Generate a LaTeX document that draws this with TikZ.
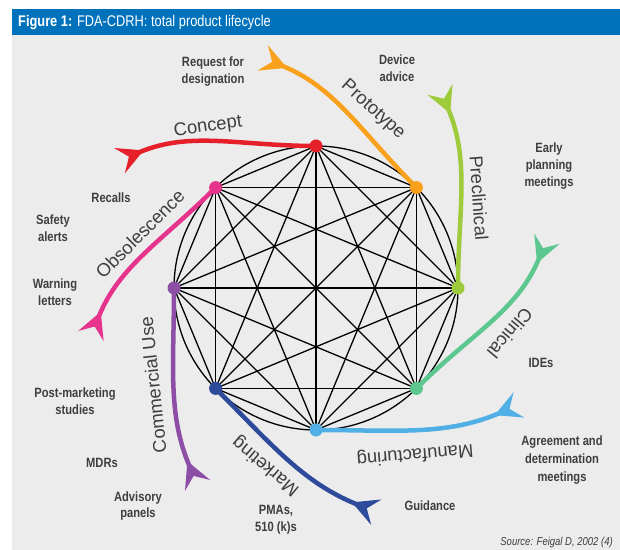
\documentclass[tikz,border=0pt]{standalone}
\usepackage{fontspec}
\setmainfont{Liberation Sans}
\newfontfamily\lab{Liberation Sans}[FakeStretch=0.83]
\usetikzlibrary{arrows.meta}

\definecolor{hdr}{RGB}{0,114,188}
\definecolor{panel}{RGB}{236,236,237}
\definecolor{ink}{RGB}{62,62,62}
\definecolor{cRed}{RGB}{230,32,42}
\definecolor{cOrange}{RGB}{249,161,27}
\definecolor{cLime}{RGB}{157,203,60}
\definecolor{cMint}{RGB}{92,199,142}
\definecolor{cSky}{RGB}{80,176,229}
\definecolor{cNavy}{RGB}{46,74,155}
\definecolor{cPurple}{RGB}{141,79,165}
\definecolor{cPink}{RGB}{230,52,140}

\pgfdeclarelayer{bg}
\pgfdeclarelayer{lines}
\pgfsetlayers{bg,lines,main}

\tikzset{
  wire/.style={black, line width=1.3bp},
  dot/.style={circle, inner sep=0pt, minimum size=13bp},
  arm/.style={line width=4.5bp, #1,
    -{Stealth[reversed, length=26bp, width=27bp, inset=10bp]}},
  phase/.style={font=\fontsize{18.5}{20}\selectfont, text=ink, inner sep=0pt},
  note/.style={font=\lab\bfseries\fontsize{13.5}{17}\selectfont, text=ink,
    align=center, inner sep=0pt},
}

\begin{document}
\begin{tikzpicture}[x=1bp, y=1bp]
\useasboundingbox (0,0) rectangle (620,550);

\begin{pgfonlayer}{bg}
  \fill[white] (0,0) rectangle (620,550);
  \fill[panel] (12,0) rectangle (620,515);
  \fill[hdr] (12,515) rectangle (620,541);
\end{pgfonlayer}

\node[anchor=base west, text=white, inner sep=0pt,
      font=\lab\fontsize{15.5}{17}\selectfont] (title) at (18,523)
  {\bfseries Figure 1: \mdseries FDA-CDRH: total product lifecycle};

% the lifecycle wheel
\begin{scope}[shift={(316,262)}]
  \foreach \i/\a/\c in {1/90/cRed, 2/45/cOrange, 3/0/cLime, 4/-45/cMint,
                        5/-90/cSky, 6/-135/cNavy, 7/180/cPurple, 8/135/cPink}
    \node[dot, fill=\c] (v\i) at (\a:142) {};

  \begin{pgfonlayer}{lines}
    \draw[wire] (0,0) circle (142);
    \foreach \i in {1,...,7}{
      \pgfmathtruncatemacro\s{\i+1}
      \foreach \j in {\s,...,8}
        \draw[wire] (v\i.center) -- (v\j.center);
    }
    % spiral arms leaving each stage: index/start angle/colour/sweep/reach
    \foreach \i/\a/\c/\w/\r in {1/90/cRed/57/234, 2/45/cOrange/58/236,
        3/0/cLime/58/234, 4/-45/cMint/57/236, 5/-90/cSky/60/234,
        6/-135/cNavy/60/232, 7/180/cPurple/59/230, 8/135/cPink/57/230}{
      \coordinate (e\i) at (\a+\w:\r);
      \draw[arm=\c] (v\i.center) to[out=\a+90, in=\a-67] (e\i);
    }
  \end{pgfonlayer}
\end{scope}

% stage names
\node[phase, rotate=8]    (tConcept) at (208,423) {Concept};
\node[phase, rotate=-42]  (tProto)   at (373,440) {Prototype};
\node[phase, rotate=-86]  (tPre)     at (479,352) {Preclinical};
\node[phase, rotate=-130] (tClin)    at (510,217) {Clinical};
\node[phase, rotate=-175] (tManu)    at (415,96)  {Manufacturing};
\node[phase, rotate=140]  (tMark)    at (266,84)  {Marketing};
\node[phase, rotate=96]   (tComm)    at (153,165) {Commercial Use};
\node[phase, rotate=45]   (tObs)     at (140,316) {Obsolescence};

% activities
\node[note] (nReq)   at (213,478) {Request for\\designation};
\node[note] (nDev)   at (397,482) {Device\\advice};
\node[note] (nEarly) at (549,384) {Early\\planning\\meetings};
\node[note] (nIDE)   at (541,187) {IDEs};
\node[note, font=\lab\bfseries\fontsize{13.5}{18}\selectfont]
            (nAgr)   at (562,90)  {Agreement and\\determination\\meetings};
\node[note] (nGuid)  at (430,44)  {Guidance};
\node[note] (nPMA)   at (276,30)  {PMAs,\\510 (k)s};
\node[note] (nAdv)   at (138,44)  {Advisory\\panels};
\node[note] (nMDR)   at (102,87)  {MDRs};
\node[note] (nPost)  at (75,149)  {Post-marketing\\studies};
\node[note] (nWarn)  at (55,258)  {Warning\\letters};
\node[note] (nSafe)  at (53,322)  {Safety\\alerts};
\node[note] (nRec)   at (111,352) {Recalls};

\node[anchor=base east, inner sep=0pt, text=ink,
      font=\lab\itshape\fontsize{11.5}{13}\selectfont] (src) at (613,4)
  {Source: Feigal D, 2002 (4)};
\end{tikzpicture}
\end{document}
